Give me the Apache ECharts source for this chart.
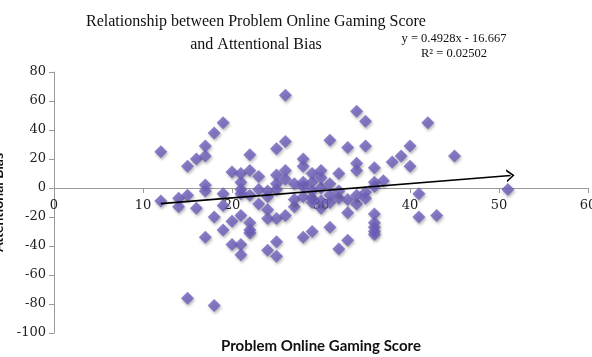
<!DOCTYPE html>
<html>
<head>
<meta charset="utf-8">
<script src="https://cdn.jsdelivr.net/npm/echarts@6/dist/echarts.min.js"></script>
<style>html,body{margin:0;padding:0;background:#fff;}#c{width:592px;height:357px;}</style>
</head>
<body>
<div id="c"></div>
<script>
// Problem Online Gaming Score (x) and Attentional Bias (y)
const scoreX = [12,12,14,14,15,15,15,16,16,17,17,17,17,17,18,18,18,19,19,19,19,20,20,20,21,21,21,21,21,21,21,22,22,22,22,22,22,23,23,23,24,24,24,24,24,25,25,25,25,25,25,25,26,26,26,26,26,27,27,27,28,28,28,28,28,28,29,29,29,29,29,29,30,30,30,30,30,31,31,31,31,31,32,32,32,32,33,33,33,33,34,34,34,34,34,35,35,35,35,36,36,36,36,36,36,36,36,37,38,39,40,40,41,41,42,43,45,51];
const biasY  = [25,-9,-7,-13,-5,15,-76,20,-14,29,22,2,-2,-34,38,-20,-81,45,-4,-12,-29,11,-23,-39,10,4,-1,-4,-19,-39,-46,23,12,-5,-24,-29,-31,8,-11,-1,-2,-15,-21,-43,-6,27,9,3,-1,-21,-37,-47,64,32,12,6,-19,-13,-8,3,20,15,4,1,-6,-34,10,4,-7,-30,-2,-10,12,-14,-9,0,7,33,3,-5,-27,-10,10,-7,-42,-2,28,-17,-36,-8,53,17,12,-11,-5,46,29,-3,-7,14,4,1,-18,-24,-27,-30,-32,5,18,22,29,15,-4,-20,45,-19,22,-1];
const xTicks = {min: 0, max: 60, interval: 10};
const yTicks = {min: -100, max: 80, interval: 20};
const trendSlope = 0.4928;
const trendIntercept = -16.667;
const trendRange = [12, 51.3];

const points = scoreX.map((x, i) => [x, biasY[i]]);
const f = x => trendSlope * x + trendIntercept;

const grid = {left: 54, right: 4, top: 72, bottom: 24};
const gridHeight = 357 - grid.top - grid.bottom;
// lift the x axis from the bottom edge to the y = 0 line
const xAxisOffset = -gridHeight * (0 - yTicks.min) / (yTicks.max - yTicks.min);

const chart = echarts.init(document.getElementById('c'), null, {renderer: 'canvas'});
const serif = '"DejaVu Serif", serif';
chart.setOption({
  animation: false,
  backgroundColor: '#fff',
  title: [
    {
      text: 'Relationship between Problem Online Gaming Score\nand Attentional Bias',
      left: 251, top: 5, textAlign: 'center',
      textStyle: {fontFamily: '"Liberation Serif", serif', fontSize: 16, fontWeight: 'normal', color: '#111', lineHeight: 23}
    },
    {
      text: 'y = 0.4928x - 16.667\nR² = 0.02502',
      left: 449, top: 26, textAlign: 'center',
      textStyle: {fontFamily: '"Liberation Serif", serif', fontSize: 12.5, fontWeight: 'normal', color: '#111', lineHeight: 15}
    },
    {
      text: 'Problem Online Gaming Score',
      left: 316, top: 334, textAlign: 'center',
      textStyle: {fontFamily: 'Lato, sans-serif', fontSize: 15, fontWeight: 'bold', color: '#111'}
    }
  ],
  grid: Object.assign({containLabel: false, outerBoundsMode: 'none'}, grid),
  xAxis: {
    type: 'value', min: xTicks.min, max: xTicks.max, interval: xTicks.interval,
    position: 'bottom', offset: xAxisOffset,
    axisLine: {onZero: false, lineStyle: {color: '#9a9a9a', width: 1}},
    axisTick: {show: true, length: 5, lineStyle: {color: '#9a9a9a'}},
    axisLabel: {fontFamily: serif, fontSize: 13, color: '#222', margin: 11},
    splitLine: {show: false}
  },
  yAxis: {
    type: 'value', min: yTicks.min, max: yTicks.max, interval: yTicks.interval,
    name: 'Attentional Bias', nameLocation: 'middle', nameRotate: 90, nameGap: 42,
    nameTextStyle: {fontFamily: 'Lato, sans-serif', fontSize: 14, fontWeight: 'bold', color: '#111'},
    axisLine: {show: true, lineStyle: {color: '#9a9a9a', width: 1}},
    axisTick: {show: true, length: 5, lineStyle: {color: '#9a9a9a'}},
    axisLabel: {fontFamily: serif, fontSize: 13, color: '#222', margin: 8},
    splitLine: {show: false}
  },
  series: [{
    type: 'scatter',
    data: points,
    symbol: 'diamond',
    symbolSize: 13,
    itemStyle: {color: '#6f5fbd', shadowBlur: 3, shadowOffsetX: 1, shadowOffsetY: 2, shadowColor: 'rgba(0,0,0,0.35)'},
    markLine: {
      silent: true,
      symbol: ['none', 'path://M0,9 L6,0 L12,9 L10,9 L6,2.6 L2,9 Z'],
      symbolSize: [13, 8],
      symbolOffset: [0, 0],
      label: {show: false},
      lineStyle: {color: '#000', width: 1.6, type: 'solid'},
      data: [[{coord: [trendRange[0], f(trendRange[0])]}, {coord: [trendRange[1], f(trendRange[1])]}]]
    }
  }]
});
</script>
</body>
</html>
